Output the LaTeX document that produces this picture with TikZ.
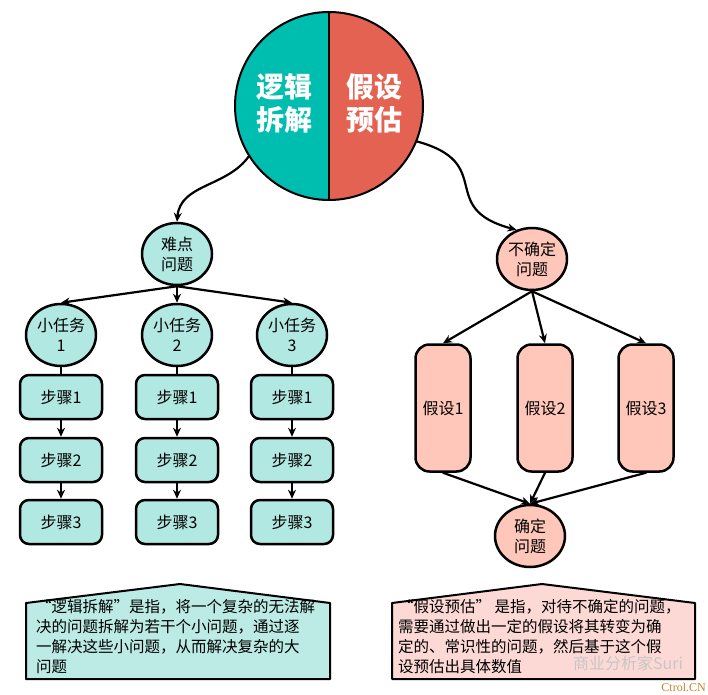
\documentclass[tikz,border=0pt]{standalone}
\usepackage{fontspec}
\setmainfont{Noto Sans CJK SC}
\newfontfamily\wmfont{Liberation Serif}
\usetikzlibrary{shapes.geometric,arrows.meta}
\definecolor{tealdark}{RGB}{0,190,175}
\definecolor{redsoft}{RGB}{228,98,82}
\definecolor{tealpale}{RGB}{178,232,226}
\definecolor{salmonpale}{RGB}{255,199,186}
\definecolor{notepink}{RGB}{253,217,213}
\definecolor{noteteal}{RGB}{188,234,228}
\tikzset{
  bubble/.style={ellipse, draw, line width=2.5pt, minimum width=70pt, minimum height=62pt,
    inner sep=0pt, align=center, font=\fontsize{16}{20}\selectfont},
  stepbox/.style={draw, line width=2.5pt, rounded corners=9pt, fill=tealpale,
    minimum width=82pt, minimum height=44pt, font=\fontsize{16}{18}\selectfont},
  guessbox/.style={draw, line width=2.5pt, rounded corners=14pt, fill=salmonpale,
    minimum width=55pt, minimum height=127pt, inner sep=0pt, font=\fontsize{16}{18}\selectfont},
  bigtitle/.style={text=white, align=center, font=\fontsize{28}{33}\selectfont\bfseries},
  notetext/.style={anchor=north west, align=left, inner sep=0pt, font=\fontsize{15.5}{20}\selectfont},
  arr/.style={line width=2.2pt, -{Stealth[length=9pt,width=8pt]}},
  link/.style={line width=2.2pt}
}
\begin{document}
\begin{tikzpicture}[x=1pt, y=1pt, line cap=round, line join=round]
\useasboundingbox (0,0) rectangle (708,694);

% big split circle
\node[circle, minimum size=188pt, inner sep=0pt] (big) at (329,588) {};
\fill[tealdark] (big.north) arc[start angle=90, end angle=270, radius=94pt] -- cycle;
\fill[redsoft] (big.north) arc[start angle=90, end angle=-90, radius=94pt] -- cycle;
\draw[line width=2pt] (big.north) -- (big.south);
\draw[line width=2pt] (big.center) circle[radius=94pt];
\node[bigtitle] (logic) at (284,591) {逻辑\\拆解};
\node[bigtitle] (guess) at (374,591) {假设\\预估};

% left branch
\node[bubble, fill=tealpale] (hard) at (177,440) {难点\\问题};
\node[bubble, fill=tealpale] (task1) at (61,359) {小任务\\1};
\node[bubble, fill=tealpale] (task2) at (177,359) {小任务\\2};
\node[bubble, fill=tealpale] (task3) at (292,359) {小任务\\3};
\foreach \i/\x in {1/61, 2/177, 3/292} {
  \node[stepbox] (s\i a) at (\x,297) {步骤1};
  \node[stepbox] (s\i b) at (\x,234) {步骤2};
  \node[stepbox] (s\i c) at (\x,172) {步骤3};
  \draw[link] (task\i.south) -- (s\i a.north);
  \draw[arr] (s\i a.south) -- (s\i b.north);
  \draw[arr] (s\i b.south) -- (s\i c.north);
  \draw[arr] (hard.south) -- (task\i.north);
}
\draw[arr] (big.212) to[out=235, in=85] (hard.north);

% right branch
\node[bubble, fill=salmonpale] (unsure) at (532,435) {不确定\\问题};
\node[bubble, fill=salmonpale] (sure) at (530,158) {确定\\问题};
\foreach \i/\x in {1/443, 2/545, 3/646} {
  \node[guessbox] (g\i) at (\x,286) {假设\i};
  \draw[arr] (unsure.south) -- (g\i.north);
  \draw[arr] (g\i.south) -- (sure.north);
}
\draw[arr] (big.-22) to[out=-15, in=165, looseness=1.6] (unsure.118);

% notes
\filldraw[fill=noteteal, line width=2pt] (26,15) -- (26,91) -- (180,110) -- (330,91) -- (330,15) -- cycle;
\node[notetext] (logicnote) at (36,95) {“逻辑拆解”是指，将一个复杂的无法解\\决的问题拆解为若干个小问题，通过逐\\一解决这些小问题，从而解决复杂的大\\问题};
\filldraw[fill=notepink, line width=2pt] (392,15) -- (392,91) -- (542,110) -- (695,91) -- (695,15) -- cycle;
\node[notetext] (guessnote) at (398,95) {“假设预估” 是指，对待不确定的问题，\\需要通过做出一定的假设将其转变为确\\定的、常识性的问题，然后基于这个假\\设预估出具体数值};

% watermarks
\node[text=gray!45, font=\fontsize{16}{18}\selectfont] (wm) at (628,31) {商业分析家Suri};
\node[text={rgb,255:red,200;green,130;blue,40}, font=\wmfont\fontsize{12}{14}\selectfont, anchor=east, inner sep=1pt] (site) at (707,7) {Ctrol.CN};
\end{tikzpicture}
\end{document}
